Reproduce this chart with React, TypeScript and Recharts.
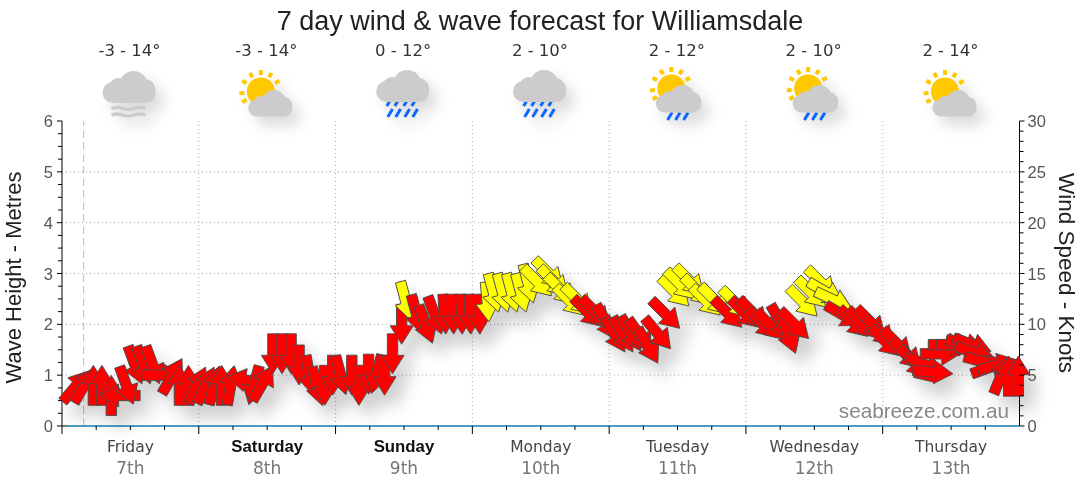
import { ComposedChart, Line, Scatter, XAxis, YAxis, CartesianGrid, ReferenceLine } from "recharts";

const dayNames = ["Friday", "Saturday", "Sunday", "Monday", "Tuesday", "Wednesday", "Thursday"];
const dayDates = ["7th", "8th", "9th", "10th", "11th", "12th", "13th"];
const weekendDays = ["Saturday", "Sunday"];
const tempRanges = ["-3 - 14°", "-3 - 14°", "0 - 12°", "2 - 10°", "2 - 12°", "2 - 10°", "2 - 14°"];
const dayIcons = ["fog", "suncloud", "rain", "rain", "sunrain", "sunrain", "suncloud"];

const metreTicks = [0, 0.25, 0.5, 0.75, 1, 1.25, 1.5, 1.75, 2, 2.25, 2.5, 2.75, 3, 3.25, 3.5, 3.75, 4, 4.25, 4.5, 4.75, 5, 5.25, 5.5, 5.75, 6];
const knotTicks = Array.from({ length: 31 }, (_, i) => i);
const hourTicks = [0, 6, 12, 18, 24, 30, 36, 42, 48, 54, 60, 66, 72, 78, 84, 90, 96, 102, 108, 114, 120, 126, 132, 138, 144, 150, 156, 162];
const gridHours = [24, 48, 72, 96, 120, 144];
const gridMetres = [1, 2, 3, 4, 5];

const windHours = [
  2.4, 3.9, 5.5, 7, 8.65, 10.2, 11.3, 12.8, 14.3, 15.9, 17.5, 19.3, 20.6, 22.2, 23.7, 25.2, 26.7, 28, 29.6,
  32.4, 33.7, 35.2, 37, 38.6, 40.2, 41.6, 43.4, 44.8, 46.1, 47.5, 48.9, 50.85, 52.1, 53.8, 55.2, 56.6, 58, 59.6,
  60.3, 62.2, 63.8, 65.4, 67.1, 68.6, 70.1, 71.6, 73.2, 74.6, 75.7, 77.3, 78.9, 80.5, 81.8, 83.4, 85.4, 86.3,
  87.5, 89.1, 90.5, 92.2, 93.6, 95.5, 97, 98.4, 99.8, 101.4, 102.8, 104.5, 105.9, 107.5, 108.5, 110.1, 111.5,
  113, 114.5, 116.8, 118.2, 119.8, 121.3, 122.9, 124.3, 126.1, 127.5, 128.5, 130, 131.5, 133.2, 134, 135.4,
  137.1, 138.9, 140.4, 141.9, 143.5, 144.5, 146.5, 148.2, 149.4, 150.6, 151.5, 152.8, 154.1, 155.5, 157, 158.5,
  159.7, 160.1, 161.7, 162.9, 164.1, 164.8, 166.1, 167.8,
];
const windKnots = [
  3.9, 4, 4, 4, 3, 3, 4, 6, 6, 6, 5, 4.9, 4, 4, 4, 4, 4, 4, 4,
  4.5, 4, 4.2, 7.1, 7.1, 7.1, 6, 5, 3.9, 4, 5, 5, 5, 4, 5.1, 5.1, 5, 7.1, 10,
  12.3, 11, 10, 10.9, 11, 11, 11, 11, 11, 12.2, 13.1, 13.1, 13.1, 13.1, 14, 14.2, 15, 14.2,
  13.4, 12.3, 12.4, 11.2, 11.2, 10.2, 9, 9, 9.1, 8.9, 7.9, 9.1, 11, 13.2, 13.9, 14.3, 13.3,
  12.3, 12.4, 11.1, 12.1, 11.1, 11.1, 10.1, 9.9, 10.2, 9, 10, 12.2, 13.1, 14.1, 13.2, 12.4,
  10.9, 10.2, 10.1, 10.2, 9.3, 8.3, 8.1, 7.1, 6.3, 5.7, 6, 5.3, 7.1, 8, 8, 8,
  8, 7.2, 6.3, 5.8, 6, 5, 4.9, 4.9,
];
const windHeadings = [
  40, 30, 0, 0, 0, 270, 160, 160, 160, 160, 90, 30, 0, 0, 25, 25, 15, 0, 10,
  280, 195, 30, 180, 180, 180, 180, 170, 165, 180, 180, 165, 180, 180, 180, 195, 180, 180, 180,
  165, 165, 160, 160, 176, 178, 178, 178, 178, 175, 165, 165, 165, 165, 165, 135, 135, 135,
  135, 135, 135, 135, 135, 150, 150, 150, 150, 145, 150, 140, 135, 135, 135, 135, 135,
  135, 135, 135, 135, 135, 135, 135, 135, 150, 160, 135, 135, 135, 135, 120, 115,
  120, 135, 135, 135, 135, 135, 135, 135, 135, 135, 115, 95, 90, 90, 90, 105,
  110, 110, 105, 70, 75, 22, 0, 0,
];
const waveHours = [1, 24, 48, 72, 96, 120, 144, 168];
const waveMetres = [0, 0, 0, 0, 0, 0, 0, 0];

const windRows = windHours.map((hour, i) => ({ hour, knots: windKnots[i], heading: windHeadings[i] }));
const waveRows = waveHours.map((hour, i) => ({ hour, wave: waveMetres[i] }));

const textFont = "'DejaVu Sans', sans-serif";

const WindArrow = (props: any) => {
  const { cx, cy, payload } = props;
  return (
    <polygon
      points="0,-20 11.5,-1.5 5.2,-1.5 5.2,20 -5.2,20 -5.2,-1.5 -11.5,-1.5"
      transform={`translate(${cx} ${cy}) rotate(${payload.heading})`}
      fill={payload.knots >= 12 ? "#ffff00" : "#ff0000"}
      stroke="#4a4a4a"
      strokeWidth={0.9}
    />
  );
};

const DayTick = (props: any) => {
  const { x, y, payload } = props;
  const hour = payload.value;
  const major = hour % 24 === 0;
  const day = Math.floor(hour / 24);
  const bold = weekendDays.includes(dayNames[day]);
  return (
    <g>
      <line x1={x} x2={x} y1={y} y2={y + (major ? 8 : 4)} stroke="#000" />
      {hour === 0 && <line x1={x} x2={x + 6} y1={y} y2={y} stroke="#000" />}
      {hour % 24 === 12 && (
        <>
          <text
            x={x}
            y={y + 26}
            textAnchor="middle"
            fontFamily={bold ? "'Liberation Sans', sans-serif" : textFont}
            fontSize={bold ? 16.8 : 15.5}
            fontWeight={bold ? 700 : 400}
            fill={bold ? "#111" : "#444"}
          >
            {dayNames[day]}
          </text>
          <text x={x} y={y + 48} textAnchor="middle" fontFamily={textFont} fontSize={17} fill="#777">
            {dayDates[day]}
          </text>
        </>
      )}
    </g>
  );
};

const MetreTick = (props: any) => {
  const { x, y, payload } = props;
  const major = Number.isInteger(payload.value);
  return (
    <g>
      <line x1={x - (major ? 5 : 4)} x2={x} y1={y} y2={y} stroke="#000" />
      {major && (
        <text x={x - 9} y={y + 6} textAnchor="end" fontSize={16.5} fill="#555">
          {payload.value}
        </text>
      )}
    </g>
  );
};

const KnotTick = (props: any) => {
  const { x, y, payload } = props;
  const major = payload.value % 5 === 0;
  return (
    <g>
      <line x1={x} x2={x + (major ? 5 : 4)} y1={y} y2={y} stroke="#000" />
      {major && (
        <text x={x + 8} y={y + 6} textAnchor="start" fontSize={16.5} fill="#555">
          {payload.value}
        </text>
      )}
    </g>
  );
};

const Cloud = ({ x, y, scale = 1 }: { x: number; y: number; scale?: number }) => (
  <g transform={`translate(${x} ${y}) scale(${scale})`} fill="#cccccc">
    <circle cx={31} cy={14} r={14} />
    <circle cx={16} cy={17} r={10} />
    <circle cx={42} cy={19} r={11} />
    <rect x={0} y={11} width={53} height={21} rx={10.5} />
  </g>
);

const Sun = ({ x, y }: { x: number; y: number }) => (
  <g transform={`translate(${x} ${y})`} fill="#ffc800">
    <circle r={14} />
    {[-120, -95, -60, -30, 0, 30, 60].map((a) => (
      <rect key={a} x={-2} y={-21.5} width={4} height={5} transform={`rotate(${a})`} />
    ))}
  </g>
);

const Streak = ({ x, y, h }: { x: number; y: number; h: number }) => (
  <line x1={x + h * 0.3} y1={y} x2={x - h * 0.3} y2={y + h} stroke="#0a66ff" strokeWidth={3} />
);

const WeatherIcon = ({ kind, x }: { kind: string; x: number }) => {
  if (kind === "fog") {
    return (
      <g>
        <Cloud x={x - 27} y={71} />
        <path d={`M${x - 18} 108.5 q6 -2 11 0 t11 0 t12 0`} stroke="#cccccc" strokeWidth={3.4} fill="none" />
        <path d={`M${x - 18} 115 q6 -2 11 0 t11 0 t12 0`} stroke="#cccccc" strokeWidth={3.4} fill="none" />
      </g>
    );
  }
  if (kind === "suncloud") {
    return (
      <g>
        <Sun x={x - 5.5} y={91.5} />
        <Cloud x={x - 18} y={90} scale={0.83} />
      </g>
    );
  }
  if (kind === "rain") {
    return (
      <g>
        {[-15, -7, 2, 10].map((d) => (
          <Streak key={d} x={x + d} y={101.5} h={4.5} />
        ))}
        {[-13, -5, 4, 12].map((d) => (
          <Streak key={d} x={x + d} y={109} h={8} />
        ))}
        <Cloud x={x - 27} y={70} />
      </g>
    );
  }
  return (
    <g>
      <Sun x={x - 5.5} y={88.5} />
      {[-7, 1, 9].map((d) => (
        <Streak key={d} x={x + d} y={112.5} h={7.5} />
      ))}
      <Cloud x={x - 21} y={85} scale={0.86} />
    </g>
  );
};

const dayCentre = (i: number) => 129.5 + i * 136.83;

export default function App() {
  return (
    <div style={{ position: "absolute", left: 0, top: 0, width: 1080, height: 490, fontFamily: "'Liberation Sans', Arial, sans-serif", background: "#fff", overflow: "hidden" }}>
      <style>{`.wind-arrows { filter: drop-shadow(10px 13px 8px rgba(0,0,0,0.19)); }`}</style>
      <ComposedChart
        width={1080}
        height={490}
        data={waveRows}
        margin={{ top: 121, right: 0, bottom: 0, left: 0 }}
      >
        <CartesianGrid yAxisId="metres" horizontalValues={gridMetres} verticalValues={gridHours} stroke="#aaa" strokeDasharray="1 3" />
        <XAxis dataKey="hour" type="number" domain={[0, 168]} ticks={hourTicks} interval={0} height={64} tickSize={0} tickMargin={0} axisLine={false} tickLine={false} tick={<DayTick />} />
        <YAxis yAxisId="metres" domain={[0, 6]} ticks={metreTicks} interval={0} width={62} tickSize={0} tickMargin={0} tickLine={false} tick={<MetreTick />} stroke="#000" />
        <YAxis yAxisId="knots" orientation="right" domain={[0, 30]} ticks={knotTicks} interval={0} width={60.5} tickSize={0} tickMargin={0} tickLine={false} tick={<KnotTick />} stroke="#000" />
        <ReferenceLine yAxisId="metres" x={3.8} stroke="#f0a8a8" strokeDasharray="8 4" />
        <Line yAxisId="metres" dataKey="wave" stroke="#0a7fb5" strokeWidth={1.5} dot={false} isAnimationActive={false} />
        <Scatter className="wind-arrows" yAxisId="knots" data={windRows} dataKey="knots" shape={<WindArrow />} isAnimationActive={false} />
      </ComposedChart>
      <svg width={1080} height={490} style={{ position: "absolute", left: 0, top: 0, pointerEvents: "none" }}>
        <text x={540} y={30} textAnchor="middle" fontSize={27} fill="#222">7 day wind &amp; wave forecast for Williamsdale</text>
        {tempRanges.map((t, i) => (
          <text key={i} x={dayCentre(i)} y={56} textAnchor="middle" fontFamily={textFont} fontSize={16.5} fill="#333">{t}</text>
        ))}
        <g style={{ filter: "drop-shadow(8px 9px 7px rgba(0,0,0,0.14))" }}>
          {dayIcons.map((kind, i) => (
            <WeatherIcon key={i} kind={kind} x={dayCentre(i)} />
          ))}
        </g>
        <text transform="translate(21 277.5) rotate(-90)" textAnchor="middle" fontSize={22} fill="#222">Wave Height - Metres</text>
        <text transform="translate(1059 273) rotate(90)" textAnchor="middle" fontSize={22.5} fill="#222">Wind Speed - Knots</text>
        <text x={1009} y={418} textAnchor="end" fontSize={20.7} fill="#888">seabreeze.com.au</text>
      </svg>
    </div>
  );
}
